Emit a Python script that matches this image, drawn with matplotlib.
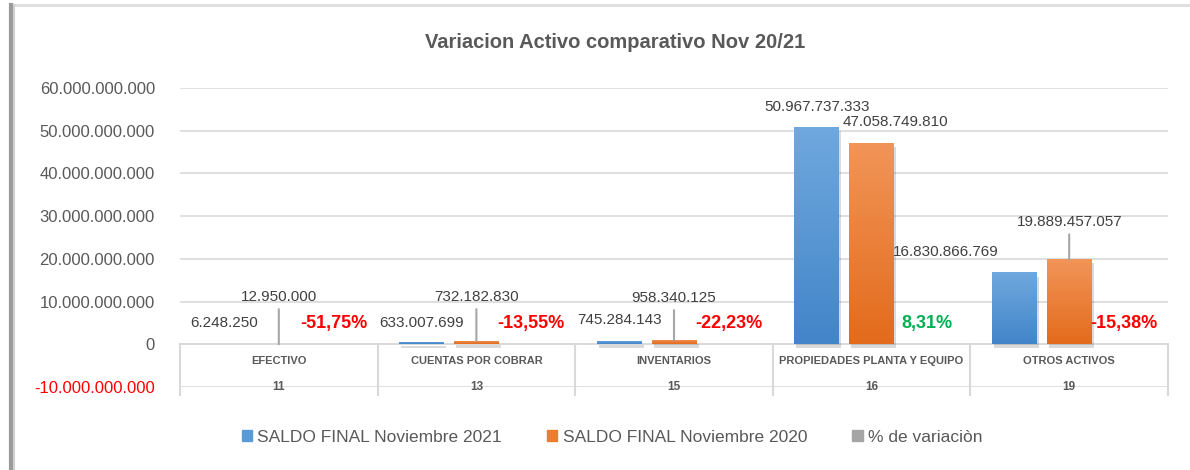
import numpy as np
import matplotlib
matplotlib.use("Agg")
import matplotlib.pyplot as plt
from matplotlib import patheffects as pe
from matplotlib.colors import LinearSegmentedColormap
from matplotlib.lines import Line2D
from matplotlib.patches import Rectangle
from matplotlib.ticker import FuncFormatter

plt.rcParams["font.family"] = ["Liberation Sans", "DejaVu Sans"]

# datos
categorias = ["EFECTIVO", "CUENTAS POR COBRAR", "INVENTARIOS", "PROPIEDADES PLANTA Y EQUIPO", "OTROS ACTIVOS"]
codigos = ["11", "13", "15", "16", "19"]
saldo_2021 = [6248250, 633007699, 745284143, 50967737333, 16830866769]
saldo_2020 = [12950000, 732182830, 958340125, 47058749810, 19889457057]
variacion = [-51.75, -13.55, -22.23, 8.31, -15.38]

TXT = "#595959"
GRID = "#D9D9D9"

# desplazamientos de etiquetas (px) como en el grafico original
off_2021 = [(0, 21), (0, 19), (0, 21), (0, 20), (-69, 20)]
off_2020 = [(0, 47), (0, 44), (0, 42), (24, 21), (0, 37)]


def miles(v, pos=None):
    s = f"{abs(int(round(v))):,}".replace(",", ".")
    return ("-" if v < 0 else "") + s


def main():
    fig = plt.figure(figsize=(11.9, 4.7), dpi=100)
    ax = fig.add_axes([180 / 1190, 1 - 387 / 470, (1168 - 180) / 1190, (387 - 88) / 470])

    x = np.arange(len(categorias))
    w = 0.227
    d = 0.278
    px = 0.72  # px -> points

    b1 = ax.bar(x - d, saldo_2021, w, color="#5B9BD5", zorder=3, label="SALDO FINAL Noviembre 2021")
    b2 = ax.bar(x, saldo_2020, w, color="#ED7D31", zorder=3, label="SALDO FINAL Noviembre 2020")
    b3 = ax.bar(x + d, [v / 100 for v in variacion], w, color="#A5A5A5", zorder=3, label="% de variaciòn")

    # degradado + sombra en las barras
    grads = [(b1, ["#4385C9", "#6FA8DE"]), (b2, ["#E36B1C", "#F29558"])]
    for bars, cols in grads:
        cmap = LinearSegmentedColormap.from_list("g", cols)
        for p in bars:
            p.set_path_effects([pe.SimplePatchShadow(offset=(1.5, -3), alpha=0.18, shadow_rgbFace="#333333"), pe.Normal()])
            x0, y0 = p.get_x(), p.get_y()
            x1, y1 = x0 + p.get_width(), y0 + p.get_height()
            im = ax.imshow(np.linspace(0, 1, 100).reshape(-1, 1), cmap=cmap, origin="lower",
                           extent=[x0, x1, y0, y1], aspect="auto", zorder=3.5)
            im.set_clip_path(p)
    ax.set_xlim(-0.5, len(categorias) - 0.5)
    ax.set_ylim(-10e9, 60e9)

    # grilla y ejes
    ax.set_yticks(np.arange(-10e9, 60e9 + 1, 10e9))
    ax.yaxis.set_major_formatter(FuncFormatter(miles))
    ax.grid(axis="y", color=GRID, linewidth=1.2, zorder=0)
    for s in ax.spines.values():
        s.set_visible(False)
    ax.tick_params(axis="y", length=0, pad=18, labelsize=12, labelcolor=TXT)
    ax.tick_params(axis="x", length=0, labelbottom=False)
    for t in ax.get_yticklabels():
        if t.get_text().startswith("-"):
            t.set_color("#FF0000")

    # tabla de categorias (eje multinivel)
    ax.axhline(0, color=GRID, linewidth=1.2, zorder=1)
    for xb in np.arange(-0.5, len(categorias), 1.0):
        ax.plot([xb, xb], [0, -11.9e9], color=GRID, linewidth=1.5, clip_on=False, zorder=1)
    for i, (c, k) in enumerate(zip(categorias, codigos)):
        ax.text(i, -3.9e9, c, ha="center", va="center", fontsize=8, fontweight="bold", color=TXT)
        ax.text(i, -10e9, k, ha="center", va="center", fontsize=8.5, fontweight="bold", color=TXT, zorder=2)

    # etiquetas de valores
    for i in range(len(categorias)):
        dx, dy = off_2021[i]
        ax.annotate(miles(saldo_2021[i]), (x[i] - d, saldo_2021[i]), xytext=(dx * px, dy * px),
                    textcoords="offset points", ha="center", va="center", fontsize=11, color="#404040", zorder=5)
        dx, dy = off_2020[i]
        ax.annotate(miles(saldo_2020[i]), (x[i], saldo_2020[i]), xytext=(dx * px, dy * px),
                    textcoords="offset points", ha="center", va="center", fontsize=11, color="#404040", zorder=5)
        if dy > 30:
            ax.annotate("", (x[i], saldo_2020[i]), xytext=(0, (dy - 12) * px), textcoords="offset points",
                        arrowprops=dict(arrowstyle="-", color="#A6A6A6", lw=1.5, shrinkA=0, shrinkB=0), zorder=5)
        col = "#00B050" if variacion[i] > 0 else "#FF0000"
        lbl = f"{variacion[i]:.2f}%".replace(".", ",")
        ax.annotate(lbl, (x[i] + d, 0), xytext=(0, 21 * px), textcoords="offset points",
                    ha="center", va="center", fontsize=13, fontweight="bold", color=col, zorder=5)

    fig.text(615 / 1190, 1 - 42 / 470, "Variacion Activo comparativo Nov 20/21",
             ha="center", va="center", fontsize=14.5, fontweight="bold", color=TXT)

    # leyenda
    handles = [Rectangle((0, 0), 1, 1, color=c) for c in ["#5B9BD5", "#ED7D31", "#A5A5A5"]]
    fig.legend(handles, [b1.get_label(), b2.get_label(), b3.get_label()], loc="center",
               bbox_to_anchor=(612 / 1190, 1 - 437 / 470), ncol=3, frameon=False, fontsize=12.5,
               handlelength=0.6, handleheight=0.6, handletextpad=0.3, columnspacing=2.6, labelcolor=TXT)

    # marco con sombra
    fig.add_artist(Line2D([12 / 1190, 1], [1 - 5 / 470, 1 - 5 / 470], color="#DDDDDD", lw=2,
                          transform=fig.transFigure))
    fig.add_artist(Line2D([11 / 1190, 11 / 1190], [0, 1 - 5 / 470], color="#9A9A9A", lw=3,
                          transform=fig.transFigure))
    fig.add_artist(Line2D([14 / 1190, 14 / 1190], [0, 1 - 5 / 470], color="#D0D0D0", lw=1.5,
                          transform=fig.transFigure))

    fig.savefig("out.png", dpi=100, facecolor="white")
    plt.close(fig)


if __name__ == "__main__":
    main()
